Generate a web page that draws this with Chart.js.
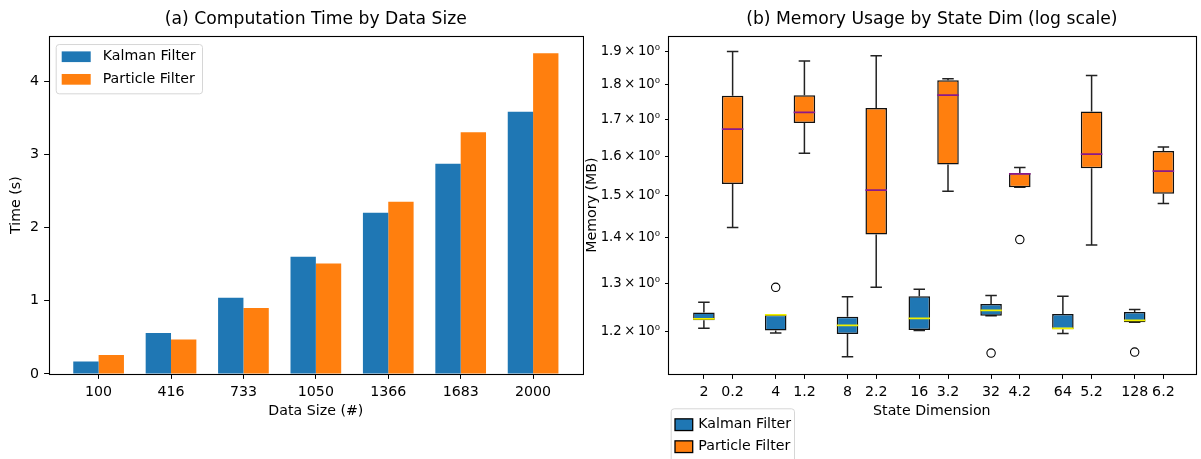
<!DOCTYPE html>
<html>
<head>
<meta charset="utf-8">
<script src="https://cdn.jsdelivr.net/npm/chart.js@4.4.0/dist/chart.umd.min.js"></script>
<style>
  html, body { margin: 0; padding: 0; background: #fff; }
  #wrap { position: relative; width: 1201px; height: 459px; overflow: hidden; }
  .panel { position: absolute; top: 0; height: 459px; }
  #left { left: 0; width: 584px; }
  #right { left: 584px; width: 617px; }
</style>
</head>
<body>
<div id="wrap">
  <div class="panel" id="left"><canvas id="timeChart"></canvas></div>
  <div class="panel" id="right"><canvas id="memChart"></canvas></div>
</div>
<script>
// (a) computation time
const dataSizes = ["100", "416", "733", "1050", "1366", "1683", "2000"];
const kalmanTime = [0.17, 0.56, 1.04, 1.60, 2.20, 2.87, 3.58];
const particleTime = [0.26, 0.47, 0.90, 1.51, 2.35, 3.30, 4.38];
const timeTicks = [0, 1, 2, 3, 4];

// (b) memory, box stats per state dimension
const stateDims = ["2", "4", "8", "16", "32", "64", "128"];
const particleLabels = ["0.2", "1.2", "2.2", "3.2", "4.2", "5.2", "6.2"];
const memTicks = [1.2, 1.3, 1.4, 1.5, 1.6, 1.7, 1.8, 1.9];

const kalmanLow = [1.207, 1.198, 1.152, 1.203, 1.232, 1.197, 1.219];
const kalmanQ1 = [1.223, 1.203, 1.196, 1.204, 1.232, 1.205, 1.219];
const kalmanMed = [1.226, 1.234, 1.213, 1.227, 1.243, 1.207, 1.223];
const kalmanQ3 = [1.239, 1.234, 1.230, 1.272, 1.256, 1.236, 1.240];
const kalmanHigh = [1.260, 1.234, 1.271, 1.287, 1.274, 1.272, 1.245];
const kalmanOut = [[], [1.291], [], [], [1.159], [], [1.161]];

const particleLow = [1.424, 1.608, 1.291, 1.511, 1.521, 1.384, 1.481];
const particleQ1 = [1.529, 1.690, 1.408, 1.579, 1.521, 1.569, 1.505];
const particleMed = [1.673, 1.720, 1.514, 1.769, 1.555, 1.606, 1.562];
const particleQ3 = [1.767, 1.769, 1.732, 1.813, 1.557, 1.722, 1.614];
const particleHigh = [1.900, 1.871, 1.887, 1.817, 1.571, 1.827, 1.625];
const particleOut = [[], [], [], [], [1.396], [], []];

const seriesNames = ["Kalman Filter", "Particle Filter"];
const BLUE = "#1f77b4";
const ORANGE = "#ff7f0e";
const FONT = "DejaVu Sans";

Chart.defaults.font.family = FONT;
Chart.defaults.font.size = 14.2;
Chart.defaults.color = "#000";

// full box around the plot area, like matplotlib spines
const frame = {
  id: "frame",
  afterDatasetsDraw(chart) {
    const { ctx, chartArea: a } = chart;
    ctx.save();
    ctx.strokeStyle = "#000";
    ctx.lineWidth = 1.1;
    ctx.strokeRect(Math.round(a.left) + 0.5, Math.round(a.top) + 0.5,
      Math.round(a.right - a.left), Math.round(a.bottom - a.top));
    ctx.restore();
  }
};

// matplotlib-ish legend box
const legendBox = {
  id: "legendBox",
  afterDraw(chart, args, o) {
    if (!o.items) return;
    const { ctx, chartArea: a } = chart;
    const left = a.left + o.dx;
    const top = (o.anchor === "bottom" ? a.bottom : a.top) + o.dy;
    ctx.save();
    ctx.beginPath();
    ctx.roundRect(left + 0.5, top + 0.5, o.w, o.h, 3);
    ctx.fillStyle = "rgba(255,255,255,0.8)";
    ctx.fill();
    ctx.strokeStyle = "#d6d6d6";
    ctx.lineWidth = 1;
    ctx.stroke();
    ctx.font = `14.2px "${FONT}"`;
    ctx.textBaseline = "middle";
    o.items.forEach((it, i) => {
      const cy = top + o.rowTop + i * o.rowGap;
      ctx.fillStyle = it.color;
      ctx.fillRect(left + o.patchX, cy - o.patchH / 2, o.patchW, o.patchH);
      if (o.edge) {
        ctx.strokeStyle = "#000";
        ctx.lineWidth = 1.3;
        ctx.strokeRect(left + o.patchX, cy - o.patchH / 2, o.patchW, o.patchH);
      }
      ctx.fillStyle = "#000";
      ctx.fillText(it.label, left + o.textX, cy);
    });
    ctx.restore();
  }
};

const tickGrid = (len) => ({ display: true, offset: false, drawOnChartArea: false, drawTicks: true, tickLength: len, tickColor: "#000", color: "#000" });
const titleFont = { size: 17.2, weight: "normal" };

// ---------- (a) bar chart ----------
new Chart(document.getElementById("timeChart"), {
  type: "bar",
  data: {
    datasets: [
      { label: seriesNames[0], data: kalmanTime.map((v, i) => ({ x: i, y: v })), backgroundColor: BLUE, borderWidth: 0 },
      { label: seriesNames[1], data: particleTime.map((v, i) => ({ x: i, y: v })), backgroundColor: ORANGE, borderWidth: 0 }
    ]
  },
  options: {
    responsive: true,
    maintainAspectRatio: false,
    animation: false,
    events: [],
    categoryPercentage: 0.7,
    barPercentage: 1.0,
    layout: { padding: { left: 0, right: 1.3, top: 0, bottom: 38.7 } },
    plugins: {
      legend: { display: false },
      tooltip: { enabled: false },
      title: { display: true, fullSize: false, text: "(a) Computation Time by Data Size", font: titleFont, color: "#000", padding: { top: 9.7, bottom: 6 } },
      legendBox: {
        items: [{ label: seriesNames[0], color: BLUE }, { label: seriesNames[1], color: ORANGE }],
        dx: 6.7, dy: 7.7, w: 146.3, h: 49.3, rowTop: 12.7, rowGap: 22.6,
        patchX: 6, patchW: 29, patchH: 10.7, textX: 47
      }
    },
    scales: {
      x: {
        type: "linear", min: -0.685, max: 6.685, offset: false,
        grid: tickGrid(4.9), border: { display: false },
        afterBuildTicks: s => { s.ticks = dataSizes.map((_, i) => ({ value: i })); },
        afterFit: s => { s.height = 46.3; },
        ticks: { autoSkip: false, maxRotation: 0, padding: 5, callback: (v, i) => dataSizes[i] },
        title: { display: true, text: "Data Size (#)", padding: { top: 0, bottom: 0 } }
      },
      y: {
        min: 0, max: 4.61,
        grid: tickGrid(4.9), border: { display: false },
        afterBuildTicks: s => { s.ticks = timeTicks.map(v => ({ value: v })); },
        afterFit: s => { s.width = 49; },
        ticks: { padding: 5 },
        title: { display: true, text: "Time (s)", padding: { top: 8, bottom: 0 } }
      }
    }
  },
  plugins: [frame, legendBox]
});

// ---------- (b) box plots ----------
const BOX_OFF = 0.2;
const HALF_BOX = 0.15;
const CAP = 0.08;
const kalmanPos = stateDims.map((_, i) => i - BOX_OFF);
const particlePos = stateDims.map((_, i) => i + BOX_OFF);

function boxes(pos, q1, q3) {
  return pos.map((x, i) => ({ x, y: [q1[i], q3[i]] }));
}
function whiskers(pos, low, q1, q3, high) {
  const pts = [];
  pos.forEach((x, i) => {
    pts.push({ x, y: low[i] }, { x, y: q1[i] }, { x, y: null });
    pts.push({ x, y: q3[i] }, { x, y: high[i] }, { x, y: null });
    pts.push({ x: x - CAP, y: low[i] }, { x: x + CAP, y: low[i] }, { x, y: null });
    pts.push({ x: x - CAP, y: high[i] }, { x: x + CAP, y: high[i] }, { x, y: null });
  });
  return pts;
}
function medians(pos, med) {
  const pts = [];
  pos.forEach((x, i) => {
    pts.push({ x: x - HALF_BOX, y: med[i] }, { x: x + HALF_BOX, y: med[i] }, { x, y: null });
  });
  return pts;
}
function outliers(pos, out) {
  const pts = [];
  pos.forEach((x, i) => out[i].forEach(v => pts.push({ x, y: v })));
  return pts;
}

const lineBase = { type: "line", pointRadius: 0, spanGaps: false, fill: false };
const memXTicks = [];
const memXLabels = [];
stateDims.forEach((d, i) => {
  memXTicks.push(kalmanPos[i], particlePos[i]);
  memXLabels.push(d, particleLabels[i]);
});

new Chart(document.getElementById("memChart"), {
  type: "bar",
  data: {
    datasets: [
      { label: seriesNames[0], data: boxes(kalmanPos, kalmanQ1, kalmanQ3), backgroundColor: BLUE, borderColor: "#111", borderWidth: 1.5, borderSkipped: false, grouped: false, order: 2 },
      { label: seriesNames[1], data: boxes(particlePos, particleQ1, particleQ3), backgroundColor: ORANGE, borderColor: "#111", borderWidth: 1.5, borderSkipped: false, grouped: false, order: 2 },
      { ...lineBase, data: whiskers(kalmanPos, kalmanLow, kalmanQ1, kalmanQ3, kalmanHigh), borderColor: "#222", borderWidth: 1.5, order: 3 },
      { ...lineBase, data: whiskers(particlePos, particleLow, particleQ1, particleQ3, particleHigh), borderColor: "#222", borderWidth: 1.5, order: 3 },
      { ...lineBase, data: medians(kalmanPos, kalmanMed), borderColor: "#f0f000", borderWidth: 1.8, order: 1 },
      { ...lineBase, data: medians(particlePos, particleMed), borderColor: "#8b1a89", borderWidth: 1.8, order: 1 },
      { type: "line", showLine: false, data: outliers(kalmanPos, kalmanOut).concat(outliers(particlePos, particleOut)),
        pointRadius: 4.2, pointBorderWidth: 1.1, pointBorderColor: "#000", pointBackgroundColor: "rgba(0,0,0,0)", order: 1 }
    ]
  },
  options: {
    responsive: true,
    maintainAspectRatio: false,
    animation: false,
    events: [],
    categoryPercentage: 0.75,
    barPercentage: 1.0,
    layout: { padding: { left: 0, right: 3.3, top: 0, bottom: 38.7 } },
    plugins: {
      legend: { display: false },
      tooltip: { enabled: false },
      title: { display: true, fullSize: false, text: "(b) Memory Usage by State Dim (log scale)", font: titleFont, color: "#000", padding: { top: 9.7, bottom: 6 } },
      legendBox: {
        items: [{ label: seriesNames[0], color: BLUE }, { label: seriesNames[1], color: ORANGE }],
        anchor: "bottom", dx: 2.7, dy: 34.3, w: 123.3, h: 60, rowTop: 16.4, rowGap: 22,
        patchX: 4.3, patchW: 17.7, patchH: 11.7, textX: 27.6, edge: true
      }
    },
    scales: {
      x: {
        type: "linear", min: -0.7, max: 6.65, offset: false,
        grid: tickGrid(4.9), border: { display: false },
        afterBuildTicks: s => { s.ticks = memXTicks.map(v => ({ value: v })); },
        afterFit: s => { s.height = 46.3; },
        ticks: { autoSkip: false, maxRotation: 0, padding: 5, callback: (v, i) => memXLabels[i] },
        title: { display: true, text: "State Dimension", padding: { top: 0, bottom: 0 } }
      },
      y: {
        type: "logarithmic", min: 1.124, max: 1.948,
        grid: tickGrid(3), border: { display: false },
        afterBuildTicks: s => { s.ticks = memTicks.map(v => ({ value: v })); },
        afterFit: s => { s.width = 84; },
        ticks: { padding: 5, font: { size: 13.2 }, callback: v => `${Number(v).toFixed(1)}\u2009\u00d7\u200910\u2070` },
        title: { display: true, text: "Memory (MB)", padding: { top: 0, bottom: 0 } }
      }
    }
  },
  plugins: [frame, legendBox]
});
</script>
</body>
</html>
